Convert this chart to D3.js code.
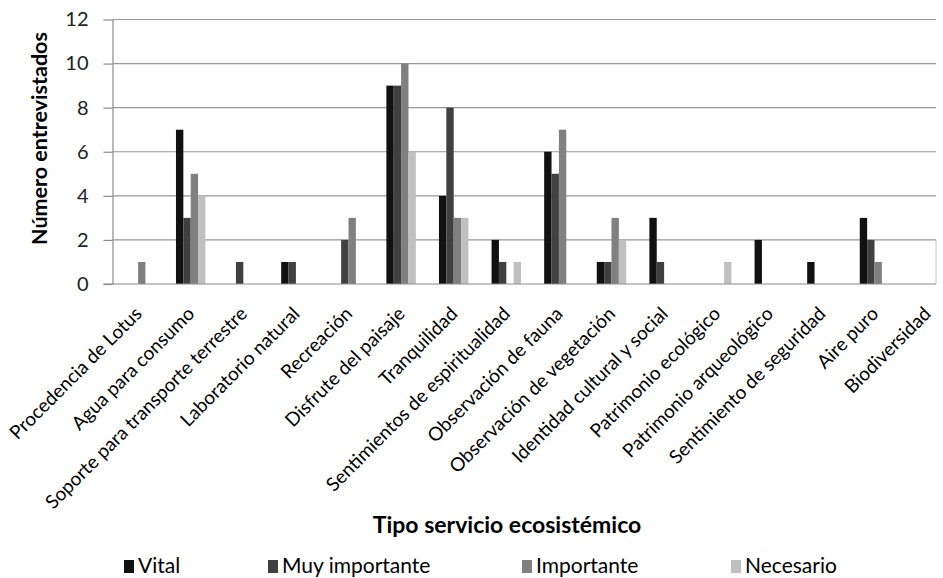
<!DOCTYPE html>
<html>
<head>
<meta charset="utf-8">
<script src="https://cdn.jsdelivr.net/npm/d3@7"></script>
<style>
  html, body { margin: 0; padding: 0; background: #fff; }
  svg { display: block; font-family: Lato, "Open Sans", sans-serif; }
</style>
</head>
<body>
<svg id="chart" width="943" height="578"></svg>
<script>
const categories = [
  "Procedencia de Lotus", "Agua para consumo", "Soporte para transporte terrestre",
  "Laboratorio natural", "Recreación", "Disfrute del paisaje", "Tranquilidad",
  "Sentimientos de espiritualidad", "Observación de fauna", "Observación de vegetación",
  "Identidad cultural y social", "Patrimonio ecológico", "Patrimonio arqueológico",
  "Sentimiento de seguridad", "Aire puro", "Biodiversidad"
];
const seriesNames = ["Vital", "Muy importante", "Importante", "Necesario"];
const vital         = [0, 7, 0, 1, 0, 9, 4, 2, 6, 1, 3, 0, 2, 1, 3, 0];
const muyImportante = [0, 3, 1, 1, 2, 9, 8, 1, 5, 1, 1, 0, 0, 0, 2, 0];
const importante    = [1, 5, 0, 0, 3, 10, 3, 0, 7, 3, 0, 0, 0, 0, 1, 0];
const necesario     = [0, 4, 0, 0, 0, 6, 3, 1, 0, 2, 0, 1, 0, 0, 0, 0];
const yTicks = [0, 2, 4, 6, 8, 10, 12];
const yTitle = "Número entrevistados";
const xTitle = "Tipo servicio ecosistémico";

const seriesValues = [vital, muyImportante, importante, necesario];
const colors = ["#111111", "#404040", "#808080", "#c0c0c0"];

const svg = d3.select("#chart");
const axisX = 112.5, plotRight = 936, plotTop = 19.5, plotBottom = 284;

const x = d3.scaleBand().domain(categories)
  .range([111.8, 953.4]).paddingInner(0.44).paddingOuter(0.22);
const xs = d3.scaleBand().domain(seriesNames).range([0, x.bandwidth()]);
const y = d3.scaleLinear().domain([0, 12]).range([plotBottom, plotTop]);

// gridlines
svg.append("g").selectAll("line").data(yTicks.filter(d => d > 0)).join("line")
  .attr("x1", axisX).attr("x2", plotRight)
  .attr("y1", d => y(d)).attr("y2", d => y(d))
  .attr("stroke", "#979797").attr("stroke-width", 1.2);

// short right border segment
svg.append("line")
  .attr("x1", plotRight).attr("x2", plotRight)
  .attr("y1", y(2)).attr("y2", y(0))
  .attr("stroke", "#c8c8c8").attr("stroke-width", 1);

// bars
const rows = [];
categories.forEach((c, i) => seriesNames.forEach((s, j) => {
  if (seriesValues[j][i] > 0) rows.push({c, s, v: seriesValues[j][i], j});
}));
svg.append("g").selectAll("rect").data(rows).join("rect")
  .attr("x", d => x(d.c) + xs(d.s))
  .attr("width", xs.bandwidth())
  .attr("y", d => y(d.v))
  .attr("height", d => y(0) - y(d.v))
  .attr("fill", d => colors[d.j]);

// y axis
const yAxis = svg.append("g").attr("transform", `translate(${axisX},0)`)
  .call(d3.axisLeft(y).tickValues(yTicks).tickSize(9).tickPadding(15).tickSizeOuter(0));
yAxis.select(".domain").attr("stroke", "#8c8c8c").attr("stroke-width", 1.2);
yAxis.selectAll(".tick line").attr("stroke", "#8c8c8c").attr("stroke-width", 1.2);
yAxis.selectAll(".tick text").attr("font-family", "Lato, sans-serif")
  .attr("font-size", 20).attr("fill", "#222");

// baseline
svg.append("line").attr("x1", axisX - 9).attr("x2", plotRight)
  .attr("y1", y(0)).attr("y2", y(0)).attr("stroke", "#8c8c8c").attr("stroke-width", 1.2);

// x labels
svg.append("g").selectAll("text").data(categories).join("text")
  .attr("transform", d => `translate(${x(d) + x.bandwidth() / 2 + 5},315) rotate(-45)`)
  .attr("text-anchor", "end")
  .attr("font-size", 19).attr("fill", "#000")
  .text(d => d);

// axis titles
svg.append("text")
  .attr("transform", "translate(47,138.5) rotate(-90)")
  .attr("text-anchor", "middle").attr("font-weight", "bold")
  .attr("font-size", 21.5).attr("fill", "#000").text(yTitle);

svg.append("text")
  .attr("x", 507).attr("y", 533).attr("text-anchor", "middle")
  .attr("font-weight", "bold").attr("font-size", 23).attr("fill", "#000").text(xTitle);

// legend
const legendX = [124, 268, 522, 731];
const lg = svg.append("g").selectAll("g").data(seriesNames).join("g")
  .attr("transform", (d, i) => `translate(${legendX[i]},0)`);
lg.append("rect").attr("x", 0).attr("y", 560).attr("width", 10).attr("height", 13)
  .attr("fill", (d, i) => colors[i]);
lg.append("text").attr("x", 14).attr("y", 573).attr("font-size", 21)
  .attr("fill", "#000").text(d => d);
</script>
</body>
</html>
